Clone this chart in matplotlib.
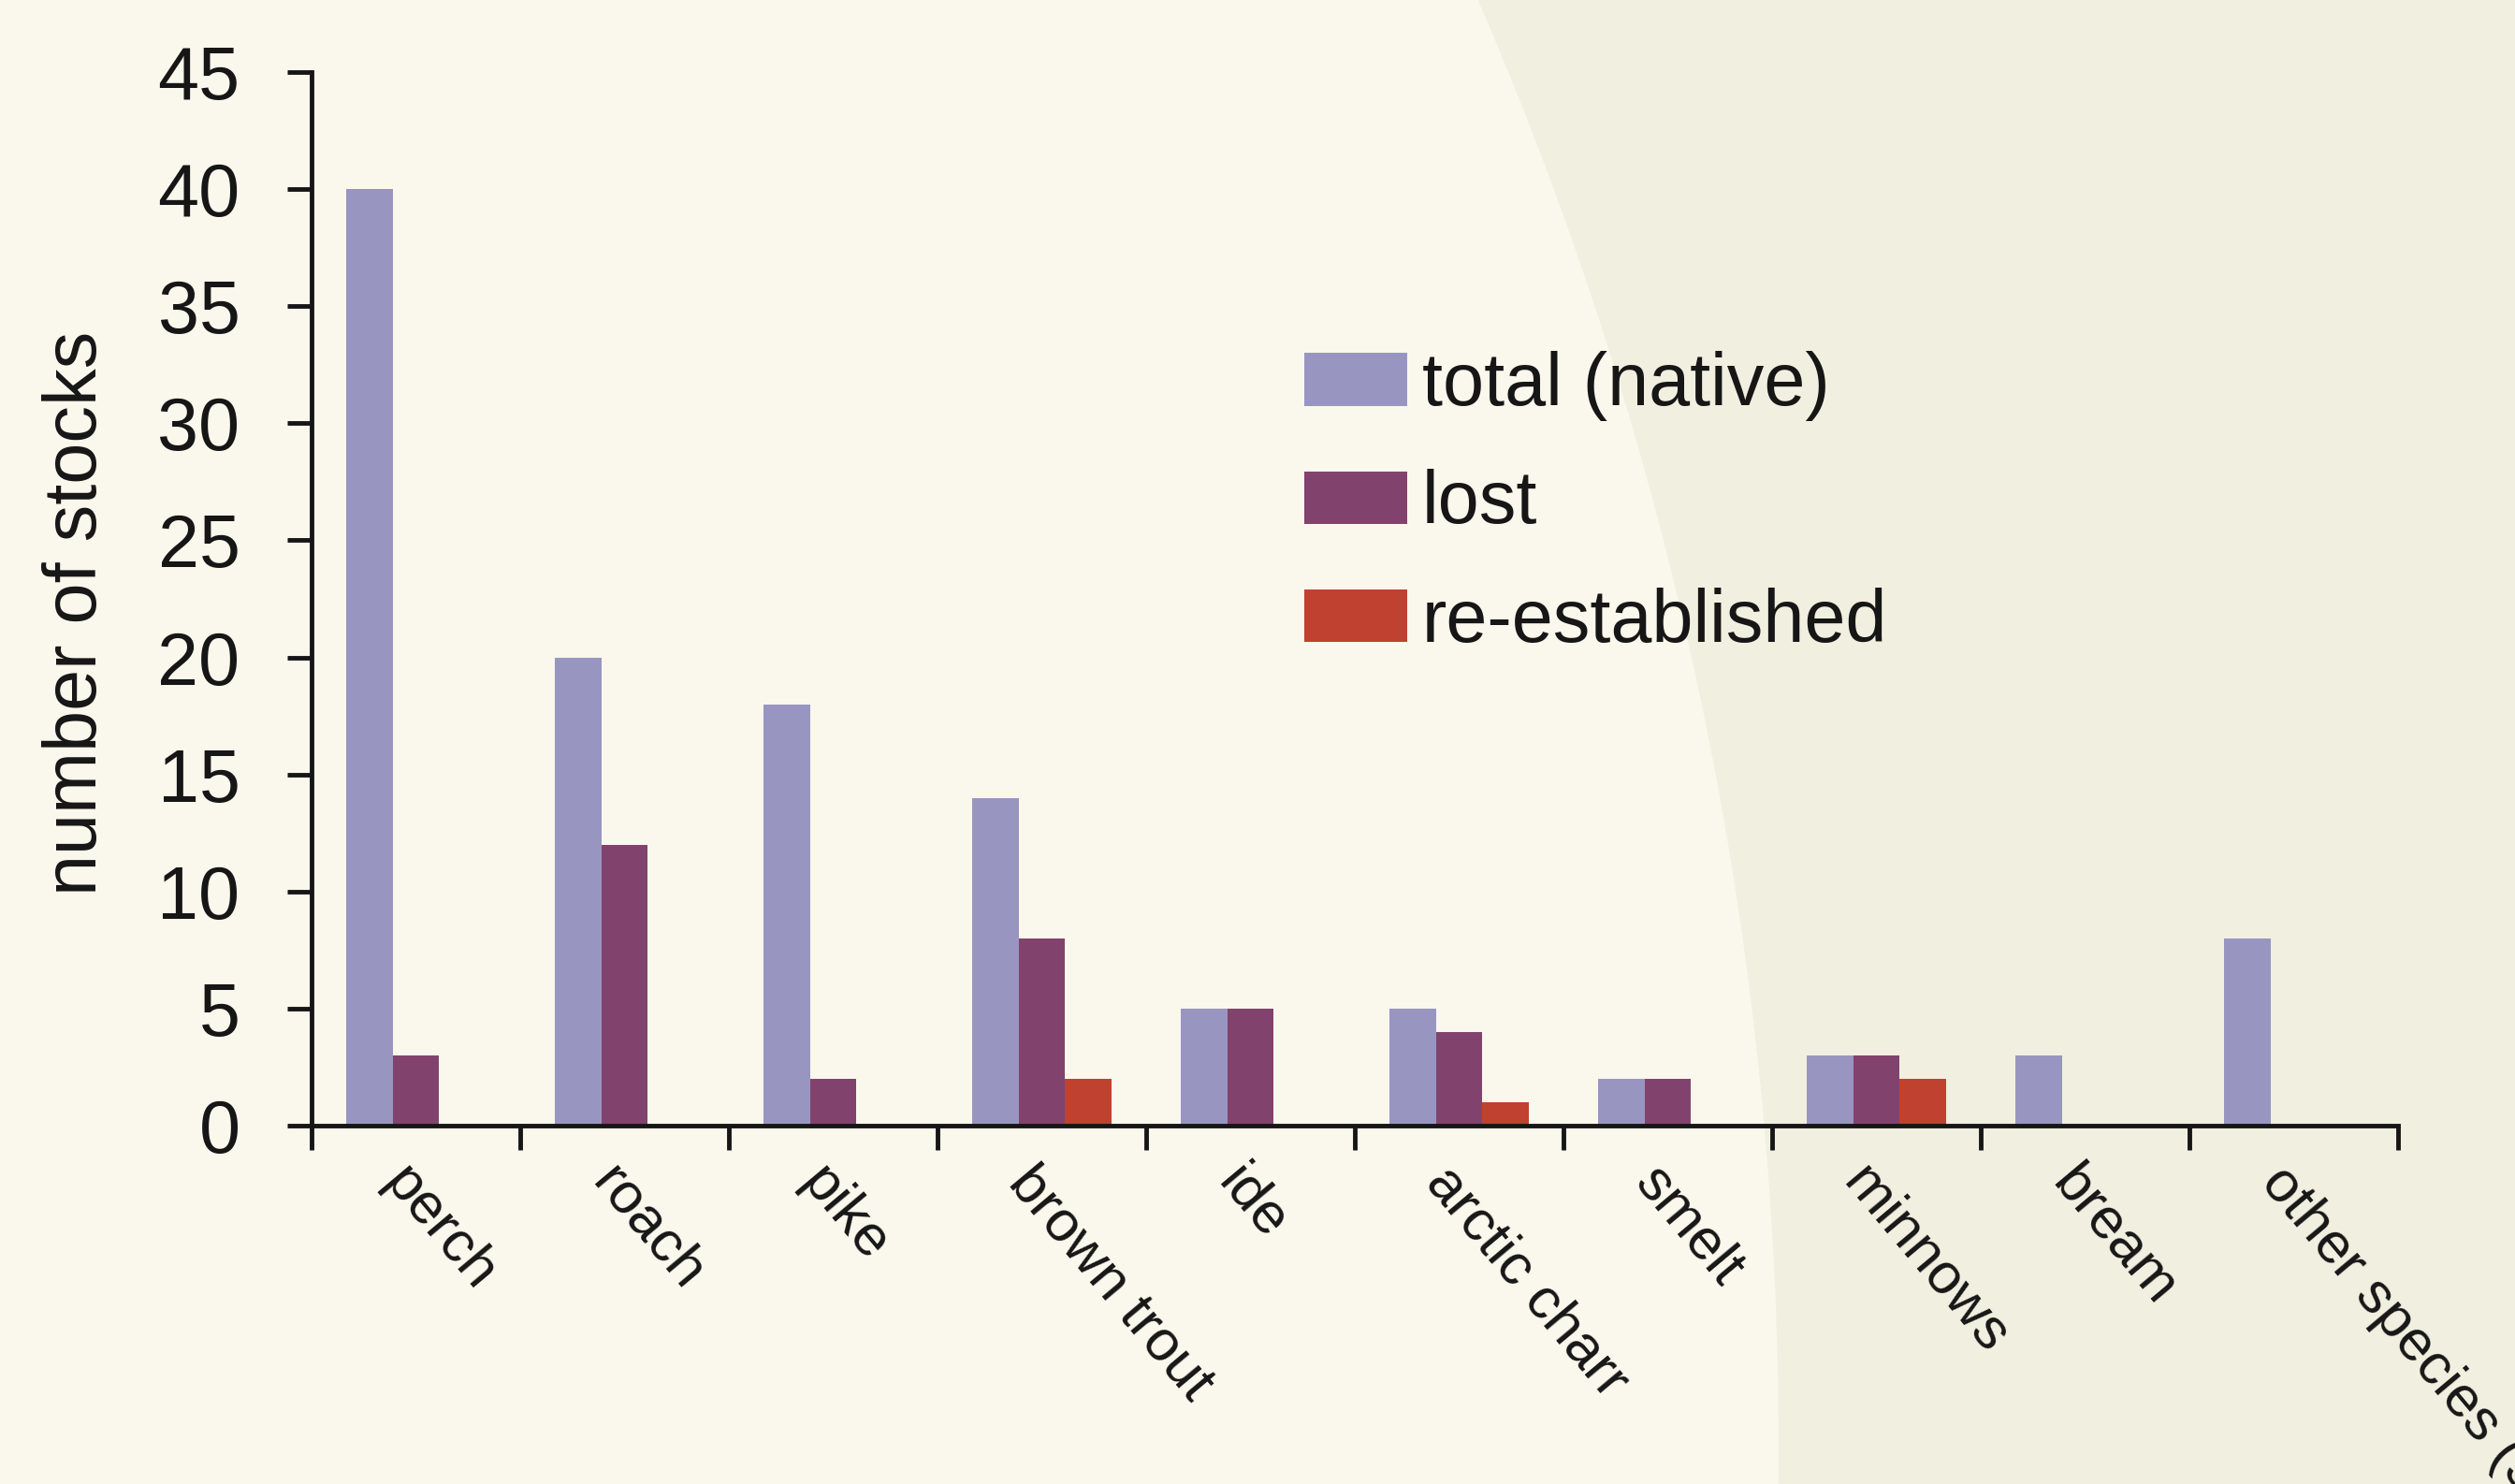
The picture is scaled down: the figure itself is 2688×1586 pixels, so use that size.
import matplotlib
matplotlib.use("Agg")
import matplotlib.pyplot as plt
import numpy as np
from matplotlib.patches import Circle
from matplotlib.transforms import ScaledTranslation
from matplotlib import font_manager

categories = ["perch", "roach", "pike", "brown trout", "ide", "arctic charr",
              "smelt", "minnows", "bream", "other species (5)"]
total_native = [40, 20, 18, 14, 5, 5, 2, 3, 3, 8]
lost = [3, 12, 2, 8, 5, 4, 2, 3, 0, 0]
re_established = [0, 0, 0, 2, 0, 1, 0, 2, 0, 0]
series_labels = ["total (native)", "lost", "re-established"]
series_colors = ["#9896C1", "#81436D", "#C04130"]
y_ticks = [0, 5, 10, 15, 20, 25, 30, 35, 40, 45]

plt.rcParams['font.family'] = ['Liberation Sans', 'DejaVu Sans']
TEXT = "#161616"
FS = 57

names = {f.name for f in font_manager.fontManager.ttflist}
if "Liberation Sans Narrow" in names:
    XFAM = ["Liberation Sans Narrow", "Liberation Sans"]
    XFS = 52
else:
    XFAM = ["Liberation Sans", "DejaVu Sans"]
    XFS = 44

W, H = 2688, 1586
fig = plt.figure(figsize=(W / 100, H / 100), dpi=100)
fig.patch.set_facecolor("#F1EFDF")
# large lighter disc in the background
circ = Circle((-1989 / 100, (H - 1548) / 100), 3890 / 100,
              transform=fig.dpi_scale_trans, facecolor="#FAF7EC",
              edgecolor="none", zorder=-10)
fig.patches.append(circ)

ax = fig.add_axes([333 / W, 1 - 1203 / H, (2563 - 333) / W, (1203 - 77) / H])
ax.set_facecolor("none")
ax.set_zorder(5)

x = np.arange(len(categories))
bw = 0.224
for i, (vals, lab, col) in enumerate(zip([total_native, lost, re_established],
                                         series_labels, series_colors)):
    ax.bar(x + (i - 1) * bw, vals, width=bw, color=col, label=lab,
           linewidth=0, zorder=2)

ax.set_xlim(-0.5, len(categories) - 0.5)
ax.set_ylim(0, 45)
ax.set_yticks(y_ticks)
ax.set_yticklabels([str(v) for v in y_ticks], fontsize=FS, color=TEXT)

ax.set_xticks(np.arange(len(categories) + 1) - 0.5)
ax.set_xticklabels([])
ax.set_xticks(x, minor=True)
ax.set_xticklabels(categories, minor=True, fontsize=XFS, color=TEXT,
                   family=XFAM, rotation=-50, ha="left", va="top",
                   rotation_mode="anchor")
ax.tick_params(axis="x", which="minor", length=0, pad=24)
ax.tick_params(axis="x", which="major", length=19, width=3.5, color=TEXT,
               direction="out")
ax.tick_params(axis="y", length=19, width=3.5, color=TEXT, pad=36,
               direction="out")
for lab in ax.get_xticklabels(minor=True):
    lab.set_transform(lab.get_transform() + ScaledTranslation(-3 / 100, 0, fig.dpi_scale_trans))

for s in ["top", "right"]:
    ax.spines[s].set_visible(False)
for s in ["left", "bottom"]:
    ax.spines[s].set_linewidth(3.5)
    ax.spines[s].set_color(TEXT)

fig.text(120 / W, 1 - 655 / H, "number of stocks", rotation=90,
         ha="right", va="center", fontsize=FS, color=TEXT)

leg = ax.legend(loc="upper left", bbox_to_anchor=(1394 / W, 1 - 375 / H),
                bbox_transform=fig.transFigure, frameon=False, fontsize=FS,
                handlelength=1.39, handleheight=0.72, handletextpad=0.2,
                labelspacing=0.65, borderpad=0, borderaxespad=0)
for t in leg.get_texts():
    t.set_color(TEXT)

fig.savefig("out.png", dpi=100, facecolor=fig.get_facecolor())
